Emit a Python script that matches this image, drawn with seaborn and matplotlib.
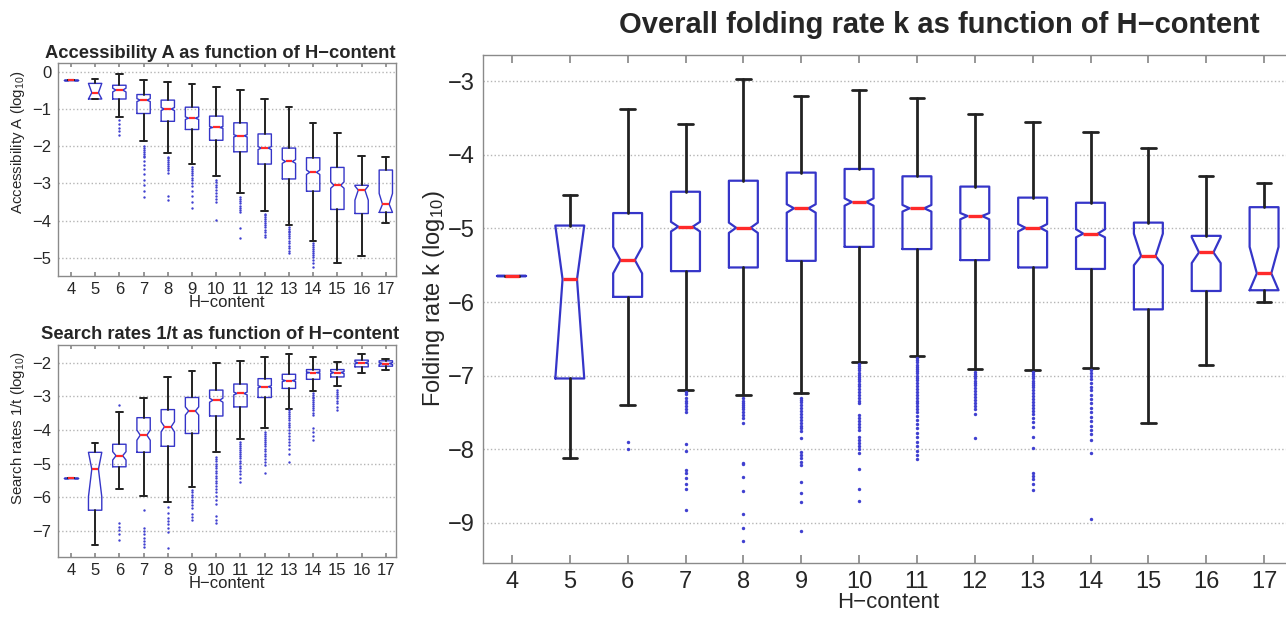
import matplotlib
matplotlib.use("Agg")
import matplotlib.pyplot as plt
import numpy as np
import pandas as pd
import seaborn as sns

# ---------------------------------------------------------------------------
# H-content classes shared by all three panels
h_content = [4, 5, 6, 7, 8, 9, 10, 11, 12, 13, 14, 15, 16, 17]

# ---------------------------------------------------------------------------
# Accessibility A (log10) box statistics
acc_whishi = [-0.22, -0.20, -0.06, -0.22, -0.28, -0.34, -0.40, -0.49, -0.73, -0.94, -1.37, -1.64, -2.25, -2.30]
acc_q3 = [-0.22, -0.31, -0.36, -0.61, -0.76, -0.95, -1.19, -1.37, -1.67, -2.05, -2.31, -2.57, -3.05, -2.64]
acc_cihi = [-0.22, -0.31, -0.44, -0.72, -0.96, -1.21, -1.47, -1.69, -2.01, -2.36, -2.64, -2.96, -3.07, -3.27]
acc_med = [-0.22, -0.56, -0.49, -0.76, -1.00, -1.245, -1.495, -1.72, -2.05, -2.41, -2.70, -3.05, -3.18, -3.56]
acc_cilo = [-0.22, -0.73, -0.54, -0.80, -1.04, -1.28, -1.52, -1.75, -2.09, -2.46, -2.76, -3.13, -3.45, -3.78]
acc_q1 = [-0.22, -0.73, -0.73, -1.12, -1.33, -1.55, -1.84, -2.15, -2.48, -2.88, -3.21, -3.70, -3.81, -3.78]
acc_whislo = [-0.22, -0.73, -1.21, -1.85, -2.19, -2.49, -2.80, -3.25, -3.74, -4.12, -4.54, -5.15, -4.96, -4.06]
acc_outliers = [
    [], [],
    [-1.30, -1.40, -1.50, -1.60, -1.70],
    [-2.00, -2.05, -2.10, -2.15, -2.20, -2.25, -2.30, -2.40, -2.50, -2.60, -2.75, -2.90, -3.05, -3.20, -3.36],
    [-2.28, -2.33, -2.38, -2.43, -2.48, -2.53, -2.58, -2.65, -2.72, -3.35, -3.45],
    [-2.55, -2.60, -2.66, -2.72, -2.78, -2.85, -2.92, -3.00, -3.08, -3.20, -3.35, -3.50, -3.67],
    [-2.91, -2.97, -3.03, -3.10, -3.18, -3.26, -3.35, -3.42, -3.49, -3.99],
    [-3.36, -3.42, -3.48, -3.54, -3.60, -3.66, -3.72, -3.78, -4.21, -4.48],
    [-3.81, -3.86, -3.91, -3.96, -4.01, -4.06, -4.11, -4.17, -4.24, -4.31, -4.38, -4.44],
    [-4.17, -4.22, -4.27, -4.32, -4.37, -4.42, -4.48, -4.54, -4.60, -4.67, -4.75, -4.82, -4.88],
    [-4.61, -4.66, -4.71, -4.76, -4.81, -4.87, -4.93, -4.99, -5.06, -5.14, -5.24],
    [], [], [],
]

# ---------------------------------------------------------------------------
# Search rates 1/t (log10) box statistics
srch_whishi = [-5.42, -4.38, -3.46, -3.04, -2.42, -2.25, -2.00, -1.95, -1.82, -1.75, -1.84, -1.97, -1.75, -1.89]
srch_q3 = [-5.42, -4.66, -4.42, -3.63, -3.39, -3.03, -2.81, -2.63, -2.47, -2.34, -2.20, -2.20, -1.92, -1.94]
srch_cihi = [-5.42, -4.66, -4.64, -4.00, -3.75, -3.31, -3.05, -2.87, -2.68, -2.50, -2.27, -2.26, -1.97, -1.99]
srch_med = [-5.42, -5.16, -4.76, -4.15, -3.90, -3.43, -3.11, -2.91, -2.71, -2.53, -2.29, -2.29, -2.00, -2.02]
srch_cilo = [-5.42, -5.98, -4.89, -4.30, -4.05, -3.55, -3.17, -2.95, -2.74, -2.56, -2.31, -2.32, -2.03, -2.05]
srch_q1 = [-5.42, -6.38, -5.09, -4.66, -4.48, -4.10, -3.58, -3.31, -3.03, -2.76, -2.49, -2.42, -2.12, -2.10]
srch_whislo = [-5.42, -7.42, -5.75, -5.95, -6.15, -5.68, -4.66, -4.25, -3.95, -3.37, -2.84, -2.69, -2.29, -2.22]
srch_outliers = [
    [], [],
    [-3.26, -6.77, -6.87, -6.97, -7.10, -7.27],
    [-6.38, -6.92, -7.00, -7.10, -7.20, -7.30, -7.38, -7.47],
    [-6.28, -6.45, -6.60, -6.70, -6.80, -6.90, -7.02, -7.49],
    [-5.78, -5.85, -5.92, -6.00, -6.08, -6.15, -6.22, -6.30, -6.50, -6.58, -6.67],
    [-4.79, -4.86, -4.93, -5.00, -5.07, -5.14, -5.21, -5.28, -5.35, -5.42, -5.50, -5.58, -5.66, -5.75, -5.85, -5.95, -6.08, -6.20, -6.55, -6.67, -6.77],
    [-4.35, -4.41, -4.47, -4.53, -4.59, -4.65, -4.71, -4.77, -4.84, -4.91, -4.98, -5.06, -5.14, -5.22, -5.31, -5.42, -5.53],
    [-4.05, -4.11, -4.17, -4.23, -4.29, -4.35, -4.41, -4.48, -4.55, -4.62, -4.70, -4.78, -4.86, -4.95, -5.05, -5.26],
    [-3.41, -3.47, -3.53, -3.59, -3.65, -3.71, -3.78, -3.85, -3.92, -4.00, -4.08, -4.16, -4.25, -4.35, -4.45, -4.57, -4.70, -4.94],
    [-2.91, -2.96, -3.01, -3.06, -3.11, -3.16, -3.21, -3.27, -3.33, -3.40, -3.48, -3.56, -3.95, -4.05, -4.18, -4.30],
    [-2.81, -2.87, -2.93, -2.99, -3.05, -3.12, -3.20, -3.30, -3.41],
    [], [],
]

# ---------------------------------------------------------------------------
# Overall folding rate k (log10) box statistics
fold_whishi = [-5.64, -4.55, -3.37, -3.58, -2.96, -3.20, -3.11, -3.22, -3.44, -3.55, -3.69, -3.90, -4.29, -4.38]
fold_q3 = [-5.64, -4.96, -4.79, -4.50, -4.35, -4.24, -4.19, -4.29, -4.43, -4.58, -4.65, -4.92, -5.10, -4.71]
fold_cihi = [-5.64, -4.96, -5.25, -4.91, -4.92, -4.67, -4.59, -4.68, -4.79, -4.94, -5.01, -5.07, -5.12, -5.25]
fold_med = [-5.64, -5.69, -5.43, -4.975, -4.99, -4.725, -4.64, -4.725, -4.83, -4.99, -5.07, -5.375, -5.325, -5.61]
fold_cilo = [-5.64, -7.04, -5.61, -5.04, -5.06, -4.785, -4.69, -4.77, -4.875, -5.04, -5.12, -5.50, -5.47, -5.84]
fold_q1 = [-5.64, -7.04, -5.93, -5.58, -5.53, -5.44, -5.25, -5.28, -5.43, -5.53, -5.55, -6.10, -5.85, -5.84]
fold_whislo = [-5.64, -8.12, -7.40, -7.19, -7.27, -7.24, -6.815, -6.74, -6.91, -6.93, -6.90, -7.645, -6.86, -6.00]
fold_outliers = [
    [], [],
    [-7.90, -8.00],
    [-7.22, -7.25, -7.30, -7.34, -7.38, -7.42, -7.46, -7.49, -7.93, -8.03, -8.28, -8.33, -8.40, -8.47, -8.54, -8.83],
    [-7.31, -7.34, -7.37, -7.40, -7.43, -7.46, -7.50, -7.54, -7.58, -7.65, -8.19, -8.21, -8.38, -8.57, -8.89, -9.08, -9.25],
    [-7.30, -7.33, -7.36, -7.40, -7.44, -7.48, -7.52, -7.56, -7.60, -7.64, -7.68, -7.72, -7.75, -7.85,
     -8.04, -8.08, -8.12, -8.17, -8.22, -8.45, -8.60, -8.72, -9.12],
    [-6.84, -6.87, -6.90, -6.93, -6.96, -6.99, -7.02, -7.05, -7.08, -7.11, -7.14, -7.18, -7.22, -7.26, -7.30,
     -7.34, -7.38, -7.54, -7.58, -7.62, -7.66, -7.70, -7.74, -7.84, -7.88, -7.92, -7.96, -8.00, -8.06,
     -8.27, -8.54, -8.71],
    [-6.76, -6.79, -6.82, -6.85, -6.88, -6.91, -6.94, -6.97, -7.00, -7.03, -7.06, -7.10, -7.14, -7.18, -7.22,
     -7.26, -7.30, -7.34, -7.38, -7.42, -7.46, -7.50, -7.55, -7.60, -7.66, -7.72, -7.78, -7.84, -7.90,
     -7.96, -8.02, -8.08, -8.13],
    [-6.95, -6.98, -7.01, -7.04, -7.07, -7.10, -7.13, -7.17, -7.21, -7.25, -7.29, -7.33, -7.37, -7.41,
     -7.46, -7.52, -7.85],
    [-6.95, -6.98, -7.01, -7.04, -7.07, -7.10, -7.13, -7.16, -7.20, -7.24, -7.28, -7.32, -7.36, -7.40,
     -7.44, -7.48, -7.53, -7.58, -7.63, -7.70, -7.84, -7.98, -8.33, -8.37, -8.41, -8.47, -8.56],
    [-6.93, -6.97, -7.01, -7.05, -7.10, -7.15, -7.20, -7.26, -7.32, -7.38, -7.44, -7.50, -7.56, -7.62,
     -7.68, -7.74, -7.80, -7.88, -8.06, -8.95],
    [], [], [],
]

# ---------------------------------------------------------------------------
BOX_BLUE = "#3535c8"
MED_RED = "#ff2a2a"
WHISK = "#222222"
FLIER_BLUE = "#4040d0"
FRAME = "#8a8a8a"

sns.set_theme(style="white")
plt.rcParams["font.family"] = ["Liberation Sans", "DejaVu Sans"]
plt.rcParams["mathtext.fontset"] = "custom"
plt.rcParams["mathtext.rm"] = "Liberation Sans"
plt.rcParams["mathtext.it"] = "Liberation Sans:italic"
plt.rcParams["axes.unicode_minus"] = True


def box_stats(whislo, q1, cilo, med, cihi, q3, whishi):
    return [
        dict(whislo=a, q1=b, cilo=c, med=d, cihi=e, q3=f, whishi=g, fliers=[])
        for a, b, c, d, e, f, g in zip(whislo, q1, cilo, med, cihi, q3, whishi)
    ]


def draw_panel(ax, stats, outliers, width, lw_box, lw_whisk, lw_med, flier_size):
    ax.bxp(
        stats,
        positions=h_content,
        widths=width,
        shownotches=True,
        showfliers=False,
        manage_ticks=False,
        boxprops=dict(color=BOX_BLUE, linewidth=lw_box),
        medianprops=dict(color=MED_RED, linewidth=lw_med, solid_capstyle="butt"),
        whiskerprops=dict(color=WHISK, linewidth=lw_whisk, linestyle="-"),
        capprops=dict(color=WHISK, linewidth=lw_whisk),
    )
    flier_df = pd.DataFrame(
        [(h, v) for h, vals in zip(h_content, outliers) for v in vals],
        columns=["H-content", "value"],
    )
    sns.scatterplot(
        data=flier_df, x="H-content", y="value", ax=ax,
        color=FLIER_BLUE, s=flier_size, marker="o", linewidth=0, zorder=3,
        legend=False,
    )
    ax.set_xticks(h_content)
    ax.set_xticklabels([str(h) for h in h_content])
    ax.grid(axis="y", linestyle=":", color="#b5b5b5", linewidth=1.0)
    ax.grid(axis="x", visible=False)
    ax.set_axisbelow(True)
    for s in ax.spines.values():
        s.set_color(FRAME)
        s.set_linewidth(1.0)
    ax.tick_params(axis="x", direction="in", top=True, bottom=True, color=FRAME,
                   length=4, pad=6)
    ax.tick_params(axis="y", length=0)


fig = plt.figure(figsize=(12.86, 6.18), dpi=100)

# Accessibility panel
ax_a = fig.add_axes([58.3 / 1286, 1 - 276 / 618, 337.7 / 1286, 212.7 / 618])
draw_panel(ax_a, box_stats(acc_whislo, acc_q1, acc_cilo, acc_med, acc_cihi, acc_q3, acc_whishi),
           acc_outliers, 0.55, 1.0, 1.4, 1.6, 3)
ax_a.set_xlim(3.48, 17.42)
ax_a.set_ylim(-5.49, 0.23)
ax_a.set_yticks([0, -1, -2, -3, -4, -5])
ax_a.tick_params(labelsize=12)
ax_a.tick_params(axis="x", length=3, pad=4)
ax_a.tick_params(axis="y", pad=5)
ax_a.set_title("Accessibility A as function of H\u2212content", fontsize=13.2, fontweight="bold",
               pad=4, x=0.48)
ax_a.set_xlabel("H\u2212content", fontsize=12, labelpad=-1)
ax_a.set_ylabel("Accessibility A (log$_{10}$)", fontsize=10.8)
ax_a.yaxis.set_label_coords(-0.092, 0.63)

# Search rate panel
ax_s = fig.add_axes([58.3 / 1286, 1 - 557.3 / 618, 337.7 / 1286, 212.3 / 618])
draw_panel(ax_s, box_stats(srch_whislo, srch_q1, srch_cilo, srch_med, srch_cihi, srch_q3, srch_whishi),
           srch_outliers, 0.55, 1.0, 1.4, 1.6, 3)
ax_s.set_xlim(3.48, 17.42)
ax_s.set_ylim(-7.78, -1.47)
ax_s.set_yticks([-2, -3, -4, -5, -6, -7])
ax_s.tick_params(labelsize=12)
ax_s.tick_params(axis="x", length=3, pad=4)
ax_s.tick_params(axis="y", pad=5)
ax_s.set_title("Search rates 1/t as function of H\u2212content", fontsize=13.2, fontweight="bold",
               pad=4, x=0.48)
ax_s.set_xlabel("H\u2212content", fontsize=12, labelpad=-1)
ax_s.set_ylabel("Search rates 1/t (log$_{10}$)", fontsize=10.8)
ax_s.yaxis.set_label_coords(-0.092, 0.61)

# Overall folding rate panel
ax_k = fig.add_axes([483 / 1286, 1 - 563 / 618, 810 / 1286, 508 / 618])
draw_panel(ax_k, box_stats(fold_whislo, fold_q1, fold_cilo, fold_med, fold_cihi, fold_q3, fold_whishi),
           fold_outliers, 0.5, 1.6, 2.0, 2.4, 6)
ax_k.set_xlim(3.5, 17.5)
ax_k.set_ylim(-9.55, -2.64)
ax_k.set_yticks([-3, -4, -5, -6, -7, -8, -9])
ax_k.tick_params(labelsize=17)
ax_k.tick_params(axis="x", length=6, pad=6)
ax_k.tick_params(axis="y", pad=6)
ax_k.set_title("Overall folding rate k as function of H\u2212content", fontsize=21, fontweight="bold",
               pad=16, x=0.563)
ax_k.set_xlabel("H\u2212content", fontsize=16, labelpad=-1)
ax_k.set_ylabel("Folding rate k (log$_{10}$)", fontsize=17)
ax_k.yaxis.set_label_coords(-0.045, 0.52)

fig.savefig("out.png", dpi=100)
